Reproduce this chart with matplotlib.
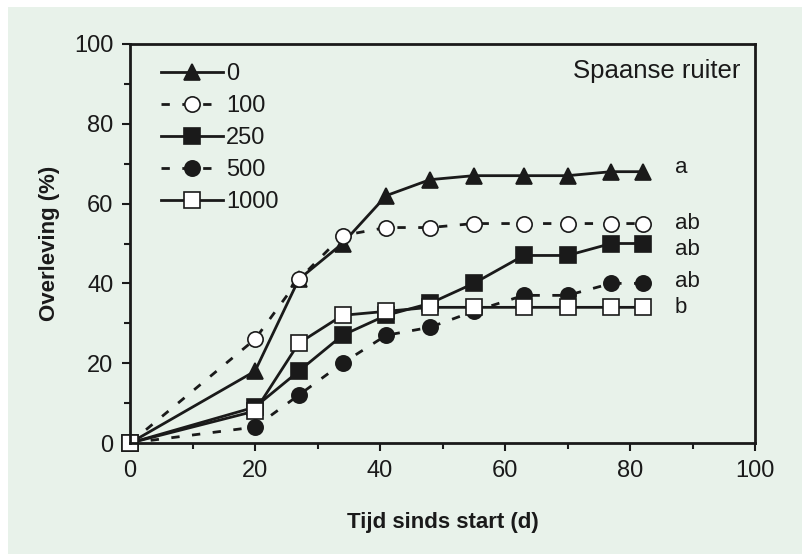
import matplotlib
matplotlib.use("Agg")
import matplotlib.pyplot as plt
from matplotlib.patches import Rectangle
from matplotlib.ticker import MultipleLocator

days = [0, 20, 27, 34, 41, 48, 55, 63, 70, 77, 82]
series_labels = ["0", "100", "250", "500", "1000"]
s0 = [0, 18, 41, 50, 62, 66, 67, 67, 67, 68, 68]
s100 = [0, 26, 41, 52, 54, 54, 55, 55, 55, 55, 55]
s250 = [0, 9, 18, 27, 32, 35, 40, 47, 47, 50, 50]
s500 = [0, 4, 12, 20, 27, 29, 33, 37, 37, 40, 40]
s1000 = [0, 8, 25, 32, 33, 34, 34, 34, 34, 34, 34]
letters = ["a", "ab", "ab", "ab", "b"]
letter_y = [69, 55, 48.5, 40.5, 34]
x_ticks = [0, 20, 40, 60, 80, 100]
y_ticks = [0, 20, 40, 60, 80, 100]

W, H = 802, 554
green = "#e8f2ea"
narrow = ["Liberation Sans Narrow", "Liberation Sans", "DejaVu Sans"]
regular = ["Liberation Sans", "DejaVu Sans"]
plt.rcParams["font.family"] = narrow

fig = plt.figure(figsize=(W / 100, H / 100), dpi=100, facecolor="white")
fig.patches.append(Rectangle((8 / W, 0), 1 - 8 / W, 1 - 7 / H, transform=fig.transFigure,
                             facecolor=green, edgecolor="none", zorder=-10))
ax = fig.add_axes([130 / W, (H - 443) / H, (755 - 130) / W, (443 - 44) / H])
ax.set_facecolor(green)

lw = 2.0
dash = (0, (3.0, 4.5))
styles = [
    dict(ls="-", marker="^", mfc="#1a1a1a", ms=12),
    dict(ls=dash, marker="o", mfc="white", ms=11),
    dict(ls="-", marker="s", mfc="#1a1a1a", ms=11),
    dict(ls=dash, marker="o", mfc="#1a1a1a", ms=11),
    dict(ls="-", marker="s", mfc="white", ms=11),
]
for vals, lab, st in zip([s0, s100, s250, s500, s1000], series_labels, styles):
    ax.plot(days, vals, color="#1a1a1a", lw=lw, linestyle=st["ls"], marker=st["marker"],
            mfc=st["mfc"], mec="#1a1a1a", mew=1.2, ms=st["ms"], label=lab, clip_on=False)

for t, yv in zip(letters, letter_y):
    ax.text(87.2, yv, t, fontsize=16, family=regular, va="center", ha="left", color="#1a1a1a")

ax.text(0.976, 0.932, "Spaanse ruiter", transform=ax.transAxes, fontsize=18.5, family=regular,
        ha="right", va="center", color="#1a1a1a")

leg = ax.legend(loc="upper left", bbox_to_anchor=(0.035, 0.975), frameon=False, fontsize=17,
                handlelength=2.6, handletextpad=0.15, labelspacing=0.42, borderaxespad=0)
for txt in leg.get_texts():
    txt.set_color("#1a1a1a")

ax.set_xlim(0, 100)
ax.set_ylim(0, 100)
ax.set_xticks(x_ticks)
ax.set_yticks(y_ticks)
ax.xaxis.set_minor_locator(MultipleLocator(10))
ax.yaxis.set_minor_locator(MultipleLocator(10))
ax.tick_params(which="major", direction="out", length=6, width=1.5, labelsize=17, pad=6,
               colors="#1a1a1a")
ax.tick_params(which="minor", direction="out", length=4, width=1.5, colors="#1a1a1a")
for sp in ax.spines.values():
    sp.set_linewidth(2.0)
    sp.set_color("#1a1a1a")

ax.set_xlabel("Tijd sinds start (d)", fontsize=16, fontweight="bold", color="#1a1a1a", labelpad=22)
ax.set_ylabel("Overleving (%)", fontsize=16, fontweight="bold", color="#1a1a1a", labelpad=10)

fig.savefig("out.png", dpi=100, facecolor=fig.get_facecolor())
